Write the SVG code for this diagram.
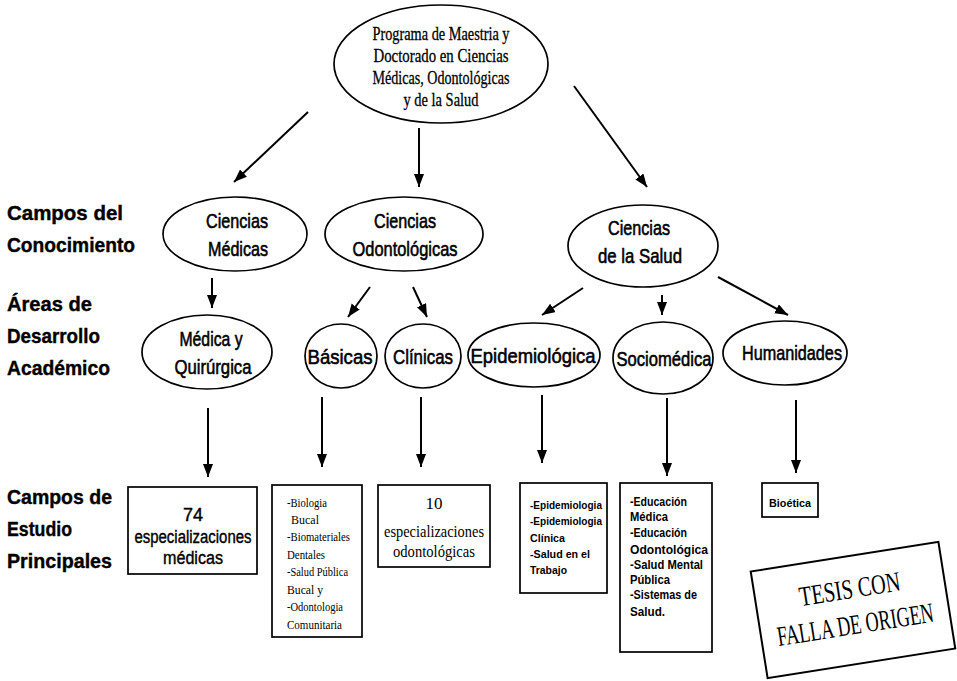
<svg xmlns="http://www.w3.org/2000/svg" width="957" height="681" viewBox="0 0 957 681">
<style>
.bg{fill:#fff}
.el{fill:#fff;stroke:#000;stroke-width:1.7}
.bx{fill:#fff;stroke:#000;stroke-width:1.7}
.con{stroke:#000;stroke-width:2;fill:none;marker-end:url(#ah)}
.lbl{font-family:"Liberation Sans",Arial,sans-serif;font-weight:bold;font-size:21px;fill:#000;stroke:#000;stroke-width:0.4}
.et{font-family:"Liberation Sans",Arial,sans-serif;font-size:21px;fill:#000;stroke:#000;stroke-width:0.6;text-anchor:middle}
.top{font-family:"Liberation Serif","Times New Roman",serif;font-size:19px;fill:#000;stroke:#000;stroke-width:0.3;text-anchor:middle}
.ser{font-family:"Liberation Serif","Times New Roman",serif;fill:#000}
.san{font-family:"Liberation Sans",Arial,sans-serif;fill:#000;stroke:#000;stroke-width:0.4}
.sm{font-family:"Liberation Sans",Arial,sans-serif;font-weight:bold;fill:#000}
</style>
<defs>
<marker id="ah" markerUnits="userSpaceOnUse" markerWidth="14" markerHeight="11" refX="13" refY="5" orient="auto">
<path d="M0,0 L13,5 L0,10 z" fill="#000"/>
</marker>
</defs>
<rect class="bg" x="0" y="0" width="957" height="681"/>

<g id="labels">
<text class="lbl" x="7" y="220" textLength="116" lengthAdjust="spacingAndGlyphs">Campos del</text>
<text class="lbl" x="7" y="252" textLength="128" lengthAdjust="spacingAndGlyphs">Conocimiento</text>
<text class="lbl" x="7" y="311" textLength="85" lengthAdjust="spacingAndGlyphs">Áreas de</text>
<text class="lbl" x="7" y="343" textLength="93" lengthAdjust="spacingAndGlyphs">Desarrollo</text>
<text class="lbl" x="7" y="375" textLength="103" lengthAdjust="spacingAndGlyphs">Académico</text>
<text class="lbl" x="7" y="504" textLength="105" lengthAdjust="spacingAndGlyphs">Campos de</text>
<text class="lbl" x="7" y="536" textLength="65" lengthAdjust="spacingAndGlyphs">Estudio</text>
<text class="lbl" x="7" y="568" textLength="105" lengthAdjust="spacingAndGlyphs">Principales</text>
</g>

<g id="connectors">
<line class="con" x1="308" y1="112" x2="234" y2="182"/>
<line class="con" x1="419" y1="128" x2="419" y2="187"/>
<line class="con" x1="574" y1="86" x2="647" y2="187"/>
<line class="con" x1="212" y1="278" x2="212" y2="308"/>
<line class="con" x1="370" y1="287" x2="348" y2="317"/>
<line class="con" x1="413" y1="287" x2="427" y2="317"/>
<line class="con" x1="583" y1="288" x2="542" y2="315"/>
<line class="con" x1="662" y1="295" x2="662" y2="315"/>
<line class="con" x1="718" y1="277" x2="788" y2="315"/>
<line class="con" x1="208" y1="408" x2="208" y2="477"/>
<line class="con" x1="322" y1="397" x2="322" y2="467"/>
<line class="con" x1="421" y1="397" x2="421" y2="467"/>
<line class="con" x1="542" y1="395" x2="542" y2="463"/>
<line class="con" x1="667" y1="398" x2="667" y2="476"/>
<line class="con" x1="796" y1="400" x2="796" y2="473"/>
</g>

<g id="programa">
<ellipse class="el" cx="441" cy="64" rx="107" ry="59"/>
<text class="top" x="441" y="40" textLength="137" lengthAdjust="spacingAndGlyphs">Programa de Maestria y</text>
<text class="top" x="441" y="62" textLength="135" lengthAdjust="spacingAndGlyphs">Doctorado en Ciencias</text>
<text class="top" x="441" y="84" textLength="137" lengthAdjust="spacingAndGlyphs">Médicas, Odontológicas</text>
<text class="top" x="441" y="106" textLength="75" lengthAdjust="spacingAndGlyphs">y de la Salud</text>
</g>

<g id="ciencias-medicas">
<ellipse class="el" cx="235" cy="234" rx="72" ry="37"/>
<text class="et" x="237" y="228" textLength="62" lengthAdjust="spacingAndGlyphs">Ciencias</text>
<text class="et" x="238" y="256" textLength="60" lengthAdjust="spacingAndGlyphs">Médicas</text>
</g>

<g id="ciencias-odontologicas">
<ellipse class="el" cx="404" cy="234" rx="79" ry="37"/>
<text class="et" x="405" y="228" textLength="62" lengthAdjust="spacingAndGlyphs">Ciencias</text>
<text class="et" x="405" y="256" textLength="105" lengthAdjust="spacingAndGlyphs">Odontológicas</text>
</g>

<g id="ciencias-salud">
<ellipse class="el" cx="643" cy="246" rx="75" ry="41"/>
<text class="et" x="639" y="235" textLength="62" lengthAdjust="spacingAndGlyphs">Ciencias</text>
<text class="et" x="640" y="263" textLength="84" lengthAdjust="spacingAndGlyphs">de la Salud</text>
</g>

<g id="medica-quirurgica">
<ellipse class="el" cx="207" cy="352" rx="65" ry="37"/>
<text class="et" x="211" y="346" textLength="63" lengthAdjust="spacingAndGlyphs">Médica y</text>
<text class="et" x="213" y="374" textLength="77" lengthAdjust="spacingAndGlyphs">Quirúrgica</text>
</g>

<g id="basicas">
<ellipse class="el" cx="341" cy="356" rx="36" ry="32"/>
<text class="et" x="340" y="364" textLength="65" lengthAdjust="spacingAndGlyphs">Básicas</text>
</g>

<g id="clinicas">
<ellipse class="el" cx="423" cy="356" rx="38" ry="32"/>
<text class="et" x="423" y="364" textLength="60" lengthAdjust="spacingAndGlyphs">Clínicas</text>
</g>

<g id="epidemiologica">
<ellipse class="el" cx="534" cy="355" rx="66" ry="32"/>
<text class="et" x="533" y="363" textLength="125" lengthAdjust="spacingAndGlyphs">Epidemiológica</text>
</g>

<g id="sociomedica">
<ellipse class="el" cx="663" cy="358" rx="50" ry="36"/>
<text class="et" x="664" y="366" textLength="95" lengthAdjust="spacingAndGlyphs">Sociomédica</text>
</g>

<g id="humanidades">
<ellipse class="el" cx="785" cy="353" rx="62" ry="32"/>
<text class="et" x="792" y="360" textLength="100" lengthAdjust="spacingAndGlyphs">Humanidades</text>
</g>

<g id="box-medicas">
<rect class="bx" x="128" y="487" width="129" height="87"/>
<text class="san" x="193" y="521" font-size="18" text-anchor="middle">74</text>
<text class="san" x="193" y="543" font-size="18" text-anchor="middle" textLength="117" lengthAdjust="spacingAndGlyphs">especializaciones</text>
<text class="san" x="193" y="564" font-size="18" text-anchor="middle" textLength="60" lengthAdjust="spacingAndGlyphs">médicas</text>
</g>

<g id="box-basicas">
<rect class="bx" x="272" y="485" width="90" height="152"/>
<g class="ser" font-size="13">
<text x="287" y="507" textLength="40" lengthAdjust="spacingAndGlyphs">-Biologia</text>
<text x="291" y="524" textLength="28" lengthAdjust="spacingAndGlyphs">Bucal</text>
<text x="287" y="541" textLength="63" lengthAdjust="spacingAndGlyphs">-Biomateriales</text>
<text x="287" y="559" textLength="38" lengthAdjust="spacingAndGlyphs">Dentales</text>
<text x="287" y="576" textLength="61" lengthAdjust="spacingAndGlyphs">-Salud Pública</text>
<text x="287" y="594" textLength="36" lengthAdjust="spacingAndGlyphs">Bucal y</text>
<text x="287" y="611" textLength="56" lengthAdjust="spacingAndGlyphs">-Odontologia</text>
<text x="287" y="629" textLength="55" lengthAdjust="spacingAndGlyphs">Comunitaria</text>
</g>
</g>

<g id="box-clinicas">
<rect class="bx" x="378" y="485" width="112" height="82"/>
<text class="ser" x="434" y="509" font-size="17" text-anchor="middle">10</text>
<text class="ser" x="434" y="537" font-size="17" text-anchor="middle" textLength="100" lengthAdjust="spacingAndGlyphs">especializaciones</text>
<text class="ser" x="434" y="557" font-size="17" text-anchor="middle" textLength="82" lengthAdjust="spacingAndGlyphs">odontológicas</text>
</g>

<g id="box-epidemiologica">
<rect class="bx" x="520" y="483" width="87" height="110"/>
<g class="sm" font-size="10.5">
<text x="530" y="509" textLength="72" lengthAdjust="spacingAndGlyphs">-Epidemiologia</text>
<text x="530" y="525" textLength="72" lengthAdjust="spacingAndGlyphs">-Epidemiologia</text>
<text x="530" y="542" textLength="35" lengthAdjust="spacingAndGlyphs">Clínica</text>
<text x="530" y="558" textLength="60" lengthAdjust="spacingAndGlyphs">-Salud en el</text>
<text x="530" y="574" textLength="37" lengthAdjust="spacingAndGlyphs">Trabajo</text>
</g>
</g>

<g id="box-sociomedica">
<rect class="bx" x="620" y="483" width="92" height="169"/>
<g class="sm" font-size="12">
<text x="630" y="506" textLength="57" lengthAdjust="spacingAndGlyphs">-Educación</text>
<text x="630" y="521" textLength="38" lengthAdjust="spacingAndGlyphs">Médica</text>
<text x="630" y="537" textLength="57" lengthAdjust="spacingAndGlyphs">-Educación</text>
<text x="630" y="554" textLength="78" lengthAdjust="spacingAndGlyphs">Odontológica</text>
<text x="630" y="569" textLength="73" lengthAdjust="spacingAndGlyphs">-Salud Mental</text>
<text x="630" y="584" textLength="40" lengthAdjust="spacingAndGlyphs">Pública</text>
<text x="630" y="599" textLength="67" lengthAdjust="spacingAndGlyphs">-Sistemas de</text>
<text x="630" y="616" textLength="35" lengthAdjust="spacingAndGlyphs">Salud.</text>
</g>
</g>

<g id="box-humanidades">
<rect class="bx" x="762" y="483" width="56" height="34"/>
<text class="sm" x="790" y="507" font-size="10" text-anchor="middle" textLength="42" lengthAdjust="spacingAndGlyphs">Bioética</text>
</g>

<g id="stamp" transform="translate(853,610) rotate(-9)">
<rect x="-95" y="-54" width="190" height="108" fill="#fff" stroke="#000" stroke-width="2"/>
<text class="ser" x="0" y="-12" font-size="28" text-anchor="middle" textLength="102" lengthAdjust="spacingAndGlyphs">TESIS CON</text>
<text class="ser" x="0" y="24" font-size="28" text-anchor="middle" textLength="158" lengthAdjust="spacingAndGlyphs">FALLA DE ORIGEN</text>
</g>
</svg>
